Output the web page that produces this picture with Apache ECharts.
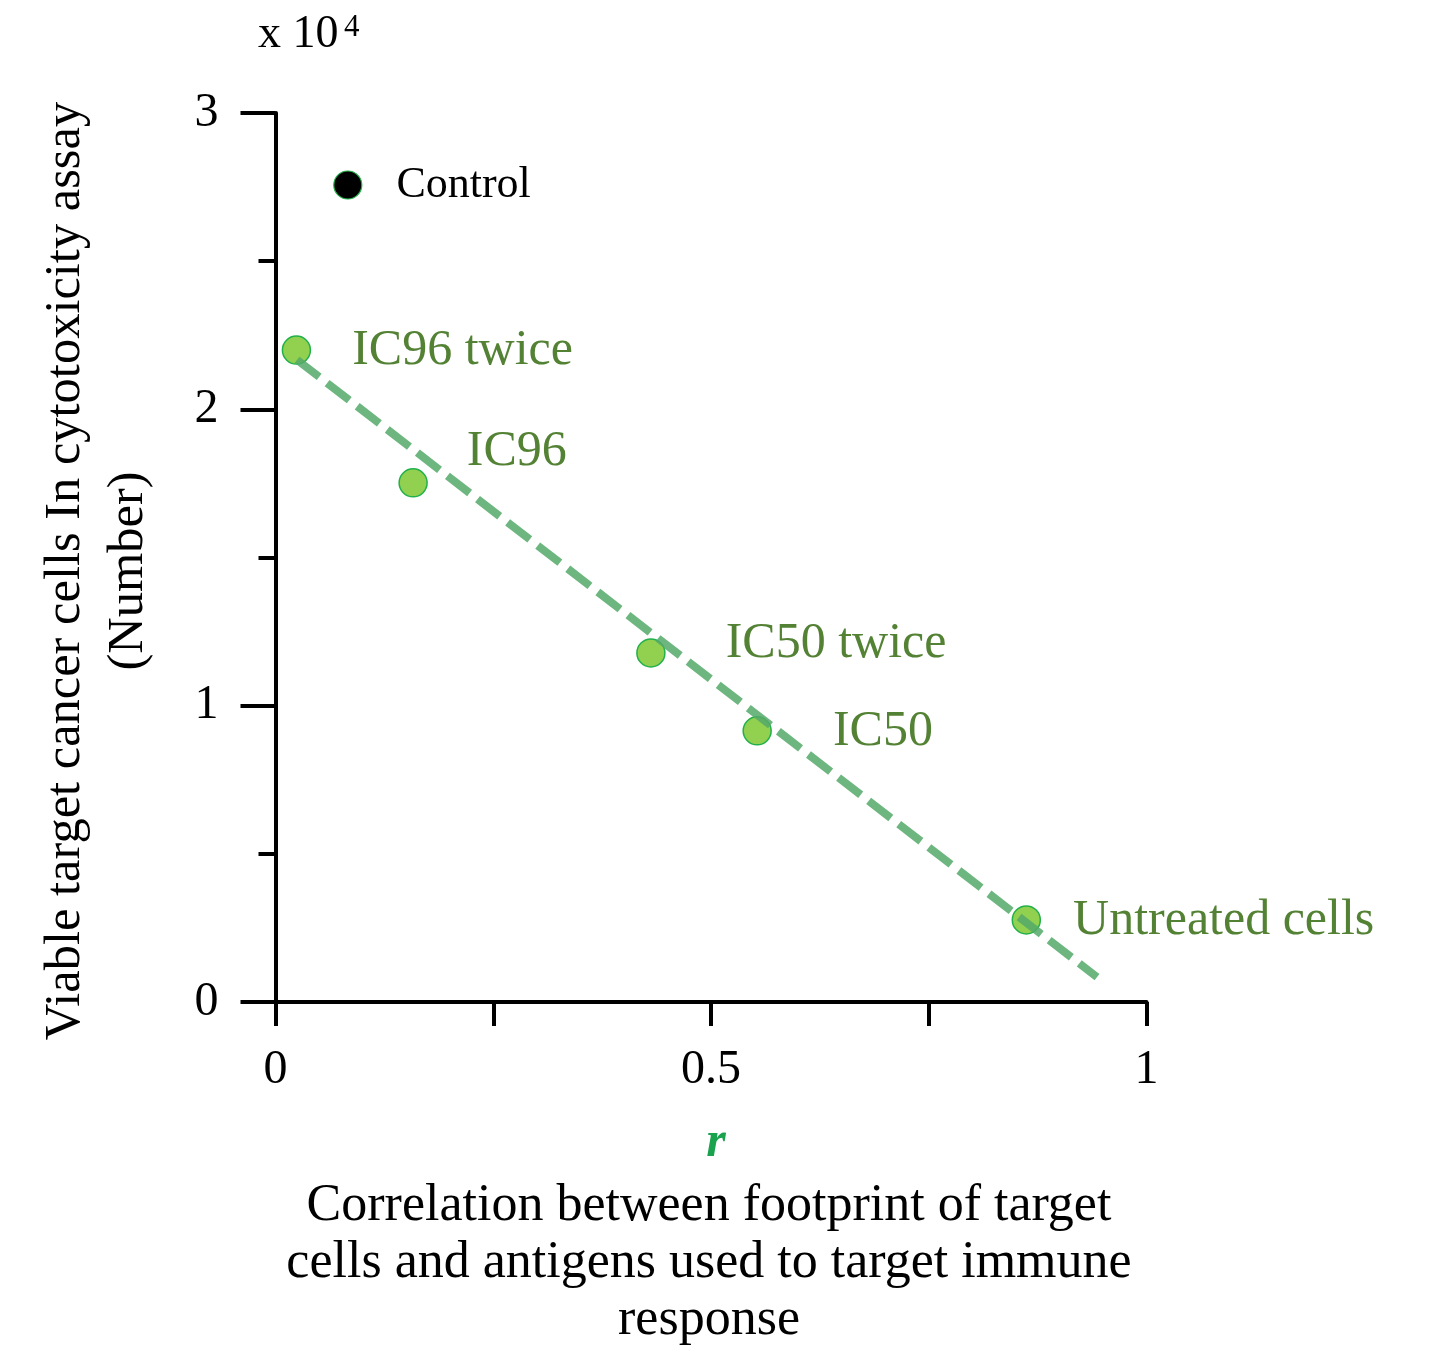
<!DOCTYPE html>
<html>
<head>
<meta charset="utf-8">
<script src="https://cdn.jsdelivr.net/npm/echarts@6/dist/echarts.min.js"></script>
<style>html,body{margin:0;padding:0;background:#fff;}#chart{width:1437px;height:1362px;}</style>
</head>
<body>
<div id="chart"></div>
<script>
// ---- data ----
const pointNames = ['IC96 twice', 'IC96', 'IC50 twice', 'IC50', 'Untreated cells'];
const pointR = [0.024, 0.158, 0.431, 0.553, 0.862];
const pointCells = [2.200, 1.752, 1.178, 0.915, 0.277];   // x 10^4
const controlName = ['Control'];
const controlR = [0.083];
const controlCells = [2.757];
const trendR = [0.0247, 0.9432];
const trendCells = [2.167, 0.084];
const xTickLabels = ['0', '0.5', '1'];
const yTickLabels = ['0', '1', '2', '3'];

// ---- style config (label placement) ----
const labelOffsets = [[41, 1], [39, -31], [60, -9], [61, 1], [32, 1]];
const controlOffset = [34, 0];

const FONT = '"Liberation Serif", "Times New Roman", serif';
const chart = echarts.init(document.getElementById('chart'));

const mainData = pointR.map((r, i) => ({
  name: pointNames[i],
  value: [r, pointCells[i]],
  label: { offset: labelOffsets[i] }
}));
const controlData = controlR.map((r, i) => ({
  name: controlName[i],
  value: [r, controlCells[i]],
  label: { offset: controlOffset }
}));

chart.setOption({
  backgroundColor: '#fff',
  animation: false,
  grid: { left: 275.5, top: 113, width: 871, height: 889, containLabel: false, outerBoundsMode: 'none' },
  xAxis: {
    type: 'value', min: 0, max: 1, interval: 0.5,
    axisLine: { show: true, onZero: false, lineStyle: { color: '#000', width: 4 } },
    axisTick: { show: true, length: 24, lineStyle: { color: '#000', width: 4 } },
    minorTick: { show: true, splitNumber: 2, length: 24, lineStyle: { color: '#000', width: 4 } },
    splitLine: { show: false },
    axisLabel: {
      margin: 44, color: '#000', fontSize: 48, fontFamily: FONT,
      formatter: v => xTickLabels[Math.round(v * 2)]
    }
  },
  yAxis: {
    type: 'value', min: 0, max: 3, interval: 1,
    axisLine: { show: true, onZero: false, lineStyle: { color: '#000', width: 4 } },
    axisTick: { show: true, length: 35, lineStyle: { color: '#000', width: 4 } },
    minorTick: { show: true, splitNumber: 2, length: 17, lineStyle: { color: '#000', width: 4 } },
    splitLine: { show: false },
    axisLabel: {
      margin: 57, color: '#000', fontSize: 48, fontFamily: FONT,
      formatter: v => yTickLabels[Math.round(v)]
    }
  },
  series: [
    {
      type: 'scatter', name: 'treatments', z: 3,
      symbol: 'circle', symbolSize: 28,
      itemStyle: { color: '#92d050', borderColor: '#22b04b', borderWidth: 1.5, opacity: 1 },
      label: {
        show: true, position: 'right', distance: 0,
        formatter: p => p.name,
        color: '#548235', fontSize: 50, fontFamily: FONT
      },
      data: mainData
    },
    {
      type: 'scatter', name: 'control', z: 3,
      symbol: 'circle', symbolSize: 28,
      itemStyle: { color: '#000', borderColor: '#22b04b', borderWidth: 1.2, opacity: 1 },
      label: {
        show: true, position: 'right', distance: 0,
        formatter: p => p.name,
        color: '#000', fontSize: 44, fontFamily: FONT
      },
      data: controlData
    },
    {
      type: 'line', name: 'trend', z: 4,
      symbol: 'none', silent: true,
      lineStyle: { color: '#55a96a', width: 8, opacity: 0.85, type: [28, 10] },
      data: trendR.map((r, i) => [r, trendCells[i]])
    }
  ],
  graphic: [
    { type: 'text', x: 258, y: 35, style: { text: 'x 10', font: '46px ' + FONT, fill: '#000', textAlign: 'left', textVerticalAlign: 'middle' } },
    { type: 'text', x: 344, y: 28, style: { text: '4', font: '31px ' + FONT, fill: '#000', textAlign: 'left', textVerticalAlign: 'middle' } },
    { type: 'text', x: 97, y: 571, rotation: Math.PI / 2,
      style: { text: 'Viable target cancer cells In cytotoxicity assay\n(Number)', font: '50.5px ' + FONT, lineHeight: 63, fill: '#000', textAlign: 'center', textVerticalAlign: 'middle' } },
    { type: 'text', x: 716, y: 1143,
      style: { text: 'r', font: 'italic bold 50px ' + FONT, fill: '#1aa24f', textAlign: 'center', textVerticalAlign: 'middle' } },
    { type: 'text', x: 709, y: 1263,
      style: { text: 'Correlation between footprint of target\ncells and antigens used to target immune\nresponse', font: '52px ' + FONT, lineHeight: 57, fill: '#000', textAlign: 'center', textVerticalAlign: 'middle' } }
  ]
});
</script>
</body>
</html>
